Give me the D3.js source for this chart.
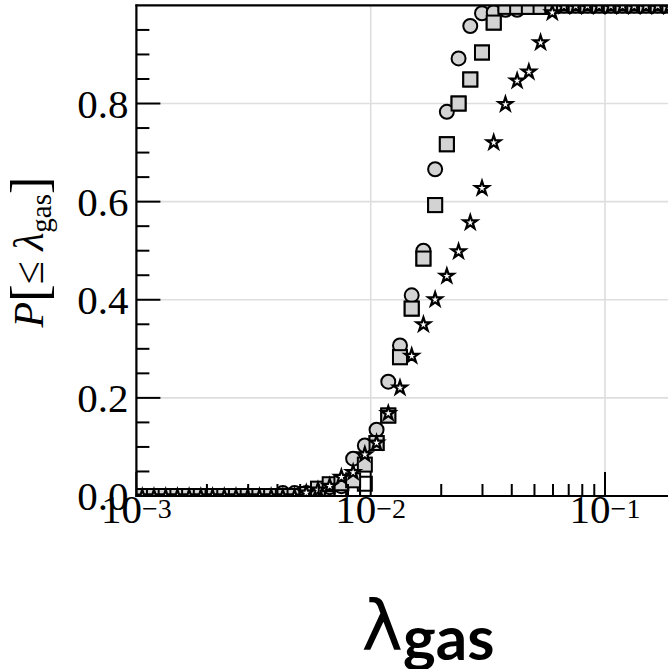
<!DOCTYPE html>
<html><head><meta charset="utf-8">
<script src="https://cdn.jsdelivr.net/npm/d3@7"></script>
<style>body{margin:0;background:#fff} svg{display:block}</style>
</head><body>
<svg id="c" width="668" height="669"></svg>
<script>
// log-bin centres of lambda_gas (20 bins per decade)
const lambdaGas = [0.0010593,0.0011885,0.0013335,0.0014962,0.0016788,0.0018836,0.0021135,0.0023714,0.0026607,0.0029854,
  0.0033497,0.0037584,0.0042170,0.0047315,0.0053088,0.0059566,0.0066834,0.0074989,0.0084140,0.0094406,
  0.010593,0.011885,0.013335,0.014962,0.016788,0.018836,0.021135,0.023714,0.026607,0.029854,
  0.033497,0.037584,0.042170,0.047315,0.053088,0.059566,0.066834,0.074989,0.084140,0.094406,
  0.10593,0.11885,0.13335,0.14962,0.16788,0.18836,0.21135];
const cdfOpenSquares = [0,0,0,0,0,0,0,0,0,0,0,0,0,0,0,0,0,0,0.01,0.025,
  0.108,0.164,0.283,0.382,0.484,0.593,0.717,0.800,0.849,0.904,0.965,0.997,0.997,0.997,0.997,
  1,1,1,1,1,1,1,1,1,1,1,1];
const cdfCircles = [0,0,0,0,0,0,0,0,0,0,0,0,0.006,0.006,0.006,0.012,0.018,0.02,0.076,0.103,
  0.135,0.233,0.307,0.409,0.500,0.666,0.783,0.892,0.958,0.984,0.986,0.991,0.991,
  1,1,1,1,1,1,1,1,1,1,1,1,1,1];
const cdfSquares = [0,0,0,0,0,0,0,0,0,0,0,0,0,0,0.004,0.015,0.024,0.026,0.032,0.064,
  0.108,0.164,0.283,0.382,0.484,0.593,0.717,0.800,0.849,0.904,0.965,0.997,0.997,0.997,0.997,
  1,1,1,1,1,1,1,1,1,1,1,1];
const cdfStars = [0,0,0,0,0,0,0,0,0,0,0,0,0,0,0.008,0.014,0.022,0.04,0.05,0.086,
  0.11,0.17,0.222,0.287,0.351,0.402,0.45,0.5,0.559,0.629,0.722,0.8,0.848,0.866,0.926,0.987,
  1,1,1,1,1,1,1,1,1,1,1];
const yMajorTicks = [0, 0.2, 0.4, 0.6, 0.8];
const yMinorTicks = [0.05,0.1,0.15,0.25,0.3,0.35,0.45,0.5,0.55,0.65,0.7,0.75,0.85,0.9,0.95];
const xMajorTicks = [0.001, 0.01, 0.1];
const xMajorLabels = ["\u22123", "\u22122", "\u22121"];

const svg = d3.select("#c");
const L = 136.4, B = 496, T = 5.4, dec = 234.3;
const x = d3.scaleLog().domain([1e-3, 1]).range([L, L + 3 * dec]);
const y = d3.scaleLinear().domain([0, 1]).range([B, T]);
const W = 700;

svg.append("defs").append("clipPath").attr("id", "clip")
  .append("rect").attr("x", L).attr("y", T).attr("width", W).attr("height", B - T);

// grid
const grid = svg.append("g").attr("stroke", "#dedede").attr("stroke-width", 1.6);
xMajorTicks.forEach(v => grid.append("line").attr("x1", x(v)).attr("x2", x(v)).attr("y1", T).attr("y2", B));
yMajorTicks.forEach(v => grid.append("line").attr("x1", L).attr("x2", L + W).attr("y1", y(v)).attr("y2", y(v)));

// markers
const pts = svg.append("g").attr("clip-path", "url(#clip)");
const sq = 14, rc = 7;
function squares(vals, fill) {
  pts.append("g").selectAll("rect").data(vals).join("rect")
    .attr("x", (d, i) => x(lambdaGas[i]) - sq / 2).attr("y", d => y(d) - sq / 2)
    .attr("width", sq).attr("height", sq)
    .attr("fill", fill).attr("stroke", "#000").attr("stroke-width", 2);
}
squares(cdfOpenSquares, "#ffffff");
pts.append("g").selectAll("circle").data(cdfCircles).join("circle")
  .attr("cx", (d, i) => x(lambdaGas[i])).attr("cy", d => y(d)).attr("r", rc)
  .attr("fill", "#d3d3d3").attr("stroke", "#000").attr("stroke-width", 2);
squares(cdfSquares, "#d3d3d3");
const star = d3.symbol().type(d3.symbolStar).size(58);
pts.append("g").selectAll("path").data(cdfStars).join("path")
  .attr("d", star)
  .attr("transform", (d, i) => `translate(${x(lambdaGas[i])},${y(d) + 0.8})`)
  .attr("fill", "#fff").attr("stroke", "#000").attr("stroke-width", 2.2).attr("stroke-linejoin", "miter");

// ticks
const tk = svg.append("g").attr("stroke", "#000").attr("stroke-width", 2);
yMajorTicks.forEach(v => tk.append("line").attr("x1", L).attr("x2", L + 24).attr("y1", y(v)).attr("y2", y(v)));
yMinorTicks.forEach(v => tk.append("line").attr("x1", L).attr("x2", L + 13).attr("y1", y(v)).attr("y2", y(v)));
xMajorTicks.forEach(v => tk.append("line").attr("x1", x(v)).attr("x2", x(v)).attr("y1", B).attr("y2", B - 24));
xMajorTicks.forEach(v => d3.range(2, 10).forEach(m => {
  const xv = x(v * m);
  if (xv < 668) tk.append("line").attr("x1", xv).attr("x2", xv).attr("y1", B).attr("y2", B - 12);
}));

// spines
const sp = svg.append("g").attr("stroke", "#000").attr("stroke-width", 2.2).attr("fill", "none");
sp.append("line").attr("x1", L).attr("x2", L).attr("y1", T - 1).attr("y2", B + 1);
sp.append("line").attr("x1", L - 1).attr("x2", L + W).attr("y1", B).attr("y2", B);
sp.append("line").attr("x1", L - 1).attr("x2", L + W).attr("y1", T).attr("y2", T);

// tick labels
const serif = "'Liberation Serif', 'DejaVu Serif', serif";
svg.append("g").selectAll("text").data(yMajorTicks).join("text")
  .attr("x", L - 8).attr("y", d => y(d) + 14)
  .attr("text-anchor", "end").attr("font-family", serif).attr("font-size", 41).attr("fill", "#000")
  .text(d => d.toFixed(1));
const xl = svg.append("g").selectAll("text").data(xMajorTicks).join("text")
  .attr("x", d => x(d)).attr("y", 523)
  .attr("text-anchor", "middle").attr("font-family", serif).attr("font-size", 41).attr("fill", "#000");
xl.append("tspan").text("10");
xl.append("tspan").attr("font-size", 28).attr("dy", -5).text((d, i) => xMajorLabels[i]);

// y axis label
const yl = svg.append("text").attr("transform", "translate(43,252) rotate(-90)")
  .attr("text-anchor", "middle").attr("font-family", serif).attr("font-size", 42).attr("fill", "#000");
yl.append("tspan").attr("font-style", "italic").text("P");
yl.append("tspan").attr("font-size", 52).attr("dy", 4).text("[");
yl.append("tspan").attr("dy", -4).text("\u2264 ");
yl.append("tspan").attr("font-style", "italic").text("\u03bb");
yl.append("tspan").attr("font-size", 29).attr("dy", 8).text("gas");
yl.append("tspan").attr("font-size", 52).attr("dy", -4).text("]");

// x axis title
const xt = svg.append("text").attr("x", 428).attr("y", 650).attr("text-anchor", "middle")
  .attr("font-family", "Lato, 'DejaVu Sans', sans-serif").attr("font-weight", "bold").attr("fill", "#000");
xt.append("tspan").attr("font-size", 70).attr("font-family", "'DejaVu Sans', sans-serif").attr("font-weight", "normal").text("\u03bb");
xt.append("tspan").attr("font-size", 62).attr("dy", 10).text("gas");
</script>
</body></html>
